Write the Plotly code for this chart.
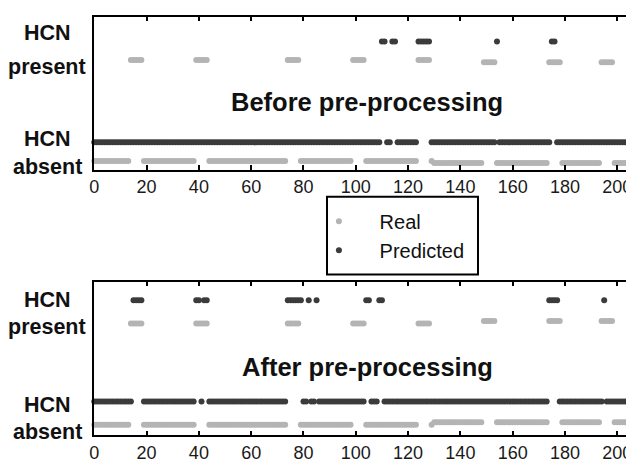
import plotly.graph_objects as go

# ---------------- data ----------------
N_SAMPLES = 207                      # sample index 0 .. 206 (visible part)
x_ticks = list(range(0, 201, 20))
legend_names = ["Real", "Predicted"]
panel_titles = ["Before pre-processing", "After pre-processing"]
class_words = [["HCN", "present"], ["HCN", "absent"]]

# runs (inclusive sample ranges) where the class is "HCN present"
real_present_runs = [(14, 18), (39, 43), (74, 78), (99, 103), (124, 128),
                     (149, 153), (174, 178), (194, 198)]
pred_before_present_runs = [(110, 111), (114, 115), (124, 128), (154, 154),
                            (175, 176)]
pred_after_present_runs = [(15, 18), (39, 40), (42, 43), (74, 79), (82, 82),
                           (85, 85), (104, 105), (109, 110), (174, 177),
                           (195, 195)]

# vertical offset of the "Real" series under the predicted one
real_shift_start = 130
real_offset_before = [0.185, 0.205]
real_offset_after = [0.23, 0.205]

# ---------------- styling ----------------
FONT = "Liberation Sans, Arial, Helvetica, sans-serif"
REAL_COLOR = "#b4b4b4"
PRED_COLOR = "#3b3b3b"
MSIZE = 6
PAD = "\u00a0\u00a0\u00a0\u2009"


def expand(runs):
    v = [0] * N_SAMPLES
    for a, b in runs:
        for i in range(a, b + 1):
            if i < N_SAMPLES:
                v[i] = 1
    return v


idx = list(range(N_SAMPLES))
real_cls = expand(real_present_runs)

fig = go.Figure()

panels = [
    ("x", "y", pred_before_present_runs, real_offset_before),
    ("x2", "y2", pred_after_present_runs, real_offset_after),
]
for p, (xa, ya, pred_runs, offs) in enumerate(panels):
    real_y = [c - (offs[0] if i < real_shift_start else offs[1])
              for i, c in zip(idx, real_cls)]
    pred_y = expand(pred_runs)
    fig.add_trace(go.Scatter(
        x=idx, y=real_y, mode="markers",
        name=PAD + legend_names[0],
        showlegend=(p == 0), cliponaxis=False,
        marker=dict(color=REAL_COLOR, size=MSIZE, line=dict(width=0)),
        xaxis=xa, yaxis=ya))
    fig.add_trace(go.Scatter(
        x=idx, y=pred_y, mode="markers",
        name=PAD + legend_names[1],
        showlegend=(p == 0), cliponaxis=False,
        marker=dict(color=PRED_COLOR, size=MSIZE, line=dict(width=0)),
        xaxis=xa, yaxis=ya))

xcommon = dict(range=[-0.11, 206.4], tickvals=x_ticks, ticks="inside",
               ticklen=5, tickwidth=1.5, tickcolor="black", showline=True,
               linecolor="black", linewidth=1.5, mirror="ticks",
               showgrid=False, zeroline=False,
               tickfont=dict(family=FONT, size=18, color="#1a1a1a"))
ycommon = dict(showline=True, linecolor="black", linewidth=1.5, mirror=False,
               showticklabels=False, ticks="", showgrid=False, zeroline=False,
               fixedrange=True)

fig.update_layout(
    width=626, height=455,
    margin=dict(l=86, r=0, t=0, b=0),
    paper_bgcolor="white", plot_bgcolor="white",
    font=dict(family=FONT, color="#111"),
    xaxis=dict(domain=[0, 1], anchor="y", **xcommon),
    yaxis=dict(domain=[0.6418, 0.9809], anchor="x", range=[-0.273, 1.246],
               **ycommon),
    xaxis2=dict(domain=[0, 1], anchor="y2", **xcommon),
    yaxis2=dict(domain=[0.0543, 0.3949], anchor="x2", range=[-0.336, 1.186],
                **ycommon),
    legend=dict(x=0.4165, y=0.5714, xanchor="left", yanchor="top",
                borderwidth=0, bgcolor="rgba(0,0,0,0)",
                tracegroupgap=0,
                font=dict(family=FONT, size=20, color="#111")),
    showlegend=True,
)

# legend frame
fig.add_shape(type="rect", xref="paper", yref="paper",
              x0=0.4315, x1=0.7111, y0=0.4105, y1=0.5824,
              line=dict(color="black", width=2), fillcolor="rgba(0,0,0,0)",
              layer="above")

# class labels on the left
label_pos = {
    "y": [(1.086, 0.75), (0.033, -0.243)],
    "y2": [(1.0, 0.735), (-0.03, -0.297)],
}
annotations = []
for yref, rows in label_pos.items():
    for words, ys in zip(class_words, rows):
        for w, yv in zip(words, ys):
            annotations.append(dict(
                text="<b>%s</b>" % w, xref="paper", x=-0.087, xanchor="center",
                yref=yref, y=yv, yanchor="middle", showarrow=False,
                font=dict(family=FONT, size=21.5, color="#111")))

# panel titles
for yref, yv, title in [("y", 0.397, panel_titles[0]),
                        ("y2", 0.34, panel_titles[1])]:
    annotations.append(dict(
        text="<b>%s</b>" % title, xref="paper", x=0.5056, xanchor="center",
        yref=yref, y=yv, yanchor="middle", showarrow=False,
        font=dict(family=FONT, size=25.5, color="#111")))

fig.update_layout(annotations=annotations)

fig.write_html("out.html")
